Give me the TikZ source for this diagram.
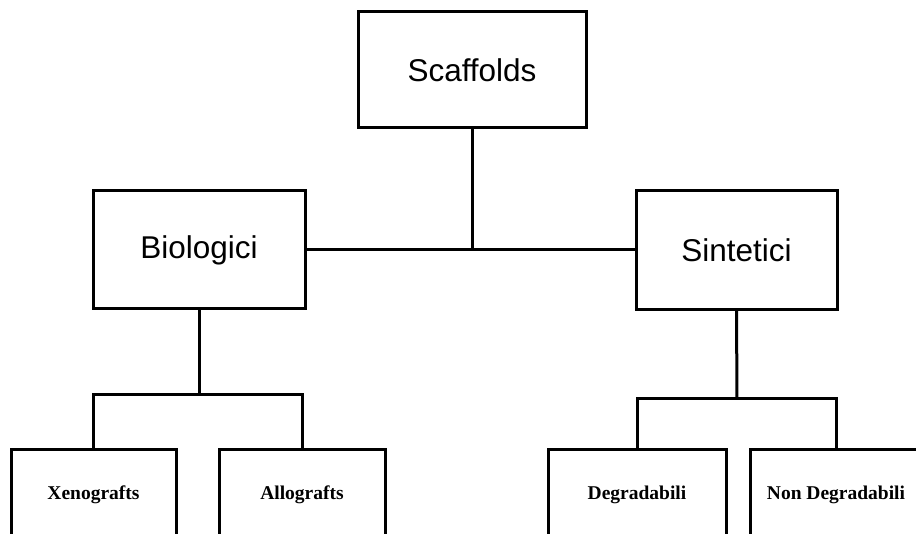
\documentclass[tikz,border=0pt]{standalone}
\usepackage{fontspec}
\setmainfont{Liberation Serif}
\newfontfamily\headfont{Liberation Sans}
\usepackage{tikz}

\begin{document}
\begin{tikzpicture}[x=1pt,y=-1pt,line width=3pt,
    headbox/.style={rectangle,draw,inner sep=0pt,font=\headfont\fontsize{31.5}{38}\selectfont},
    leafbox/.style={rectangle,draw,inner sep=0pt,minimum height=90pt,font=\bfseries\fontsize{19.5}{23}\selectfont}]
\useasboundingbox (0,0) rectangle (916,534);
\clip (0,0) rectangle (916,534);
\node[headbox,minimum width=228pt,minimum height=116pt] (scaffolds) at (472,70) {Scaffolds};
\node[headbox,minimum width=212pt,minimum height=118pt] (biologici) at (199,250) {Biologici};
\node[headbox,minimum width=201pt,minimum height=119pt] (sintetici) at (736.5,250) {Sintetici};
\node[leafbox,minimum width=165pt] (xeno) at (93.5,495) {Xenografts};
\node[leafbox,minimum width=166pt] (allo) at (302,495) {Allografts};
\node[leafbox,minimum width=178pt] (degr) at (637,495) {Degradabili};
\node[leafbox,minimum width=172pt] (nondegr) at (836,495) {Non Degradabili};
\coordinate (bioFork) at (199,395);
\coordinate (sinFork) at (737,399);
\draw (biologici.east) -- (sintetici.west);
\draw (scaffolds.south) -- (scaffolds.south |- biologici.east);
\draw (biologici.south) -- (bioFork);
\draw (xeno.north) -- (xeno.north |- bioFork) -- (allo.north |- bioFork) -- (allo.north);
\draw (sintetici.south) -- (sinFork);
\draw (degr.north) -- (degr.north |- sinFork) -- (nondegr.north |- sinFork) -- (nondegr.north);
\end{tikzpicture}
\end{document}
